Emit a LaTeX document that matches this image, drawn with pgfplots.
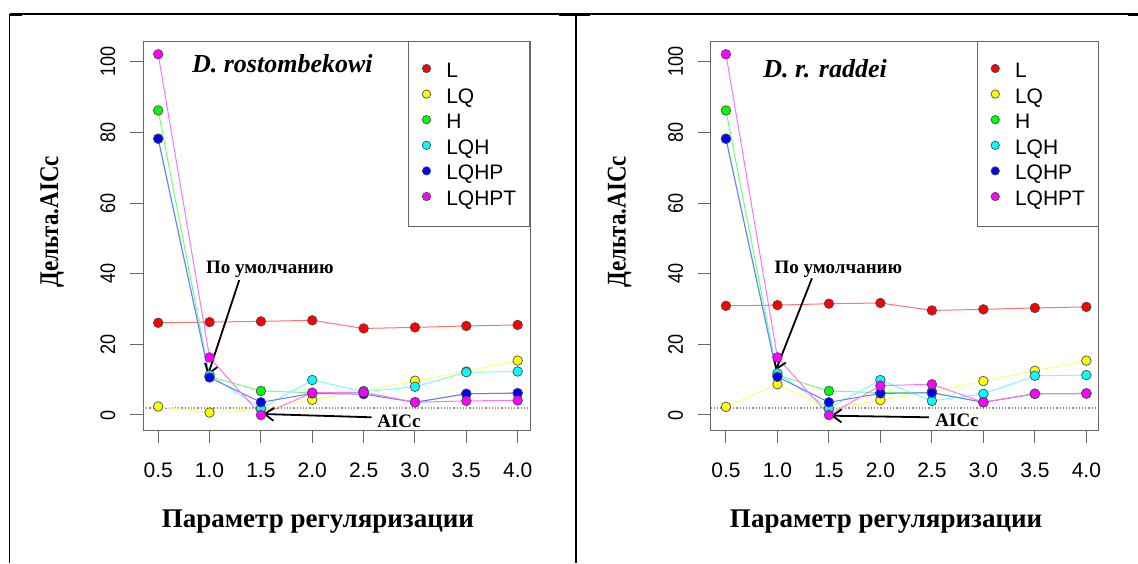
\documentclass[border=0pt]{standalone}
\usepackage{fontspec}
\usepackage{pgfplots}
\pgfplotsset{compat=1.18}
\usetikzlibrary{arrows.meta}
\setmainfont{Liberation Serif}
\newfontfamily\sansfont{Liberation Sans}
\newfontfamily\sansnarrow[FakeStretch=0.86]{Liberation Sans}
\newfontfamily\serifnarrow[FakeStretch=0.85]{Liberation Serif}

\definecolor{cL}{RGB}{255,0,0}
\definecolor{cLQ}{RGB}{255,255,0}
\definecolor{cH}{RGB}{0,255,0}
\definecolor{cLQH}{RGB}{0,255,255}
\definecolor{cLQHP}{RGB}{0,0,255}
\definecolor{cLQHPT}{RGB}{255,0,255}

% Delta AICc by regularisation multiplier, one table per species
\pgfplotstableread{
rm   L     LQ    H     LQH   LQHP  LQHPT
0.5  26.1  2.4   86.2  78.2  78.2  102.1
1.0  26.3  0.7   10.9  11.3  10.6  16.3
1.5  26.5  1.6   6.8   1.9   3.6   0.0
2.0  26.8  4.3   6.3   9.9   6.1   6.3
2.5  24.5  6.8   6.4   6.6   5.9   6.4
3.0  24.8  9.7   3.6   8.0   3.6   3.6
3.5  25.2  12.3  6.0   12.1  6.0   4.0
4.0  25.5  15.4  6.2   12.3  6.2   4.1
}\rostomb
\pgfplotstableread{
rm   L     LQ    H     LQH   LQHP  LQHPT
0.5  30.9  2.3   86.2  78.2  78.2  102.1
1.0  31.1  8.7   11.3  11.8  10.8  16.3
1.5  31.5  1.8   6.8   1.9   3.6   0.0
2.0  31.7  4.2   6.3   9.9   6.1   8.3
2.5  29.6  6.6   6.3   4.0   6.3   8.7
3.0  29.9  9.6   3.6   6.0   3.6   3.6
3.5  30.3  12.5  6.0   11.1  6.0   6.0
4.0  30.6  15.4  6.1   11.3  6.1   6.1
}\raddei

\tikzset{
  note/.style={font=\bfseries\fontsize{9.5}{11}\selectfont},
  pointer/.style={-{Straight Barb[length=4.5pt,width=6.5pt]}, line width=0.9pt},
}

\pgfplotsset{
  panel/.style={
    scale only axis, width=193.5pt, height=194.5pt,
    xmin=0.352, xmax=4.12, ymin=-4.25, ymax=105.86,
    clip=false,
    xtick={0.5,1,1.5,2,2.5,3,3.5,4},
    xticklabels={0.5,1.0,1.5,2.0,2.5,3.0,3.5,4.0},
    ytick={0,20,40,60,80,100},
    tick align=outside, tick pos=left, major tick length=6.5pt,
    tick style={black!60, line width=0.5pt},
    axis line style={black!60, line width=0.5pt},
    /pgf/number format/assume math mode=true,
    xticklabel style={font=\sansfont\fontsize{10.5}{12}\selectfont, anchor=center, yshift=-13.5pt},
    yticklabel style={font=\sansnarrow\fontsize{10.5}{12}\selectfont, rotate=90, anchor=center, yshift=11pt},
    xlabel style={font=\bfseries\fontsize{13.5}{16}\selectfont, at={(axis description cs:0.452,-0.236)}, anchor=center},
    ylabel style={font=\serifnarrow\bfseries\fontsize{13.5}{16}\selectfont, at={(axis description cs:-0.235,0.535)}, anchor=center},
    xlabel={Параметр регуляризации},
    ylabel={Дельта.AICc},
    legend cell align=left,
    legend style={at={(1,1)}, anchor=north east, draw=black!60, line width=0.5pt, fill=white,
      font=\sansfont\fontsize{10.5}{12}\selectfont,
      inner xsep=6.6pt, inner ysep=10.5pt, row sep=5.3pt, column sep=7.6pt,
      nodes={inner sep=0pt, text height=7.5pt, text depth=0pt}},
  },
  series/.style={forget plot, line width=0.5pt, draw=#1!55!white, mark=*, mark size=2.4pt,
    mark options={fill=#1, draw=black!70, line width=0.35pt}},
  gap/.style={forget plot, black!45, densely dotted, line width=0.6pt},
}

\newcommand\legendentries{%
  \addlegendimage{legend image code/.code={\fill[cL, draw=black!70, line width=0.35pt] (0pt,0.75pt) circle (2.1pt);}}
  \addlegendentry{L}
  \addlegendimage{legend image code/.code={\fill[cLQ, draw=black!70, line width=0.35pt] (0pt,0.75pt) circle (2.1pt);}}
  \addlegendentry{LQ}
  \addlegendimage{legend image code/.code={\fill[cH, draw=black!70, line width=0.35pt] (0pt,0.75pt) circle (2.1pt);}}
  \addlegendentry{H}
  \addlegendimage{legend image code/.code={\fill[cLQH, draw=black!70, line width=0.35pt] (0pt,0.75pt) circle (2.1pt);}}
  \addlegendentry{LQH}
  \addlegendimage{legend image code/.code={\fill[cLQHP, draw=black!70, line width=0.35pt] (0pt,0.75pt) circle (2.1pt);}}
  \addlegendentry{LQHP}
  \addlegendimage{legend image code/.code={\fill[cLQHPT, draw=black!70, line width=0.35pt] (0pt,0.75pt) circle (2.1pt);}}
  \addlegendentry{LQHPT}
}

\begin{document}
\begin{tikzpicture}
\useasboundingbox (0pt,0pt) rectangle (569pt,-281.5pt);

% table rules around the two panels
\draw[line width=0.75pt] (4.75pt,-7pt) -- (569pt,-7pt);
\draw[line width=0.75pt] (4.75pt,-7pt) -- (4.75pt,-281.5pt);
\draw[line width=0.75pt] (288pt,-7pt) -- (288pt,-281.5pt);
\draw[line width=1.2pt] (4.75pt,-7.6pt) -- (11pt,-7.6pt);
\draw[line width=1.2pt] (279.5pt,-7.6pt) -- (295pt,-7.6pt);
\draw[line width=1.2pt] (564pt,-7.6pt) -- (569pt,-7.6pt);

% left panel
\begin{axis}[panel, at={(71.5pt,-215pt)}, anchor=south west]
  \addplot[gap] coordinates {(0.352,2) (4.12,2)};
  \addplot[series=cL]     table[x=rm, y=L]     {\rostomb};
  \addplot[series=cLQ]    table[x=rm, y=LQ]    {\rostomb};
  \addplot[series=cH]     table[x=rm, y=H]     {\rostomb};
  \addplot[series=cLQH]   table[x=rm, y=LQH]   {\rostomb};
  \addplot[series=cLQHP]  table[x=rm, y=LQHP]  {\rostomb};
  \addplot[series=cLQHPT] table[x=rm, y=LQHPT] {\rostomb};
  \legendentries
  \node[font=\bfseries\itshape\fontsize{13}{15}\selectfont] at (axis cs:1.709,99.5) {D. rostombekowi};
  \node[note] at (axis cs:1.588,41.3) {По умолчанию};
  \draw[pointer] (axis cs:1.289,38.2) -- (axis cs:0.984,11.3);
  \node[note] at (axis cs:2.844,-1.9) {AICc};
  \draw[pointer] (axis cs:2.578,-0.65) -- (axis cs:1.522,0.28);
\end{axis}

% right panel
\begin{axis}[panel, width=194pt, at={(355.35pt,-215pt)}, anchor=south west]
  \addplot[gap] coordinates {(0.352,2) (4.12,2)};
  \addplot[series=cL]     table[x=rm, y=L]     {\raddei};
  \addplot[series=cLQ]    table[x=rm, y=LQ]    {\raddei};
  \addplot[series=cH]     table[x=rm, y=H]     {\raddei};
  \addplot[series=cLQH]   table[x=rm, y=LQH]   {\raddei};
  \addplot[series=cLQHP]  table[x=rm, y=LQHP]  {\raddei};
  \addplot[series=cLQHPT] table[x=rm, y=LQHPT] {\raddei};
  \legendentries
  \node[font=\bfseries\itshape\fontsize{13}{15}\selectfont] at (axis cs:1.463,98.1) {D. r. raddei};
  \node[note] at (axis cs:1.592,41.3) {По умолчанию};
  \draw[pointer] (axis cs:1.335,38.7) -- (axis cs:0.985,12.7);
  \node[note] at (axis cs:2.744,-1.42) {AICc};
  \draw[pointer] (axis cs:2.47,-0.65) -- (axis cs:1.52,-0.2);
\end{axis}
\end{tikzpicture}
\end{document}
